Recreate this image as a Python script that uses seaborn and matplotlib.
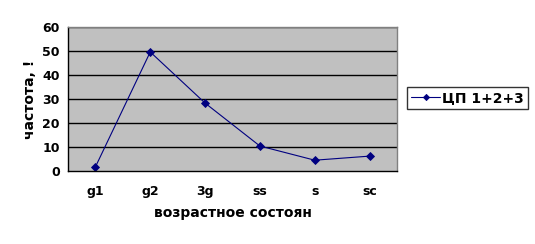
import matplotlib
matplotlib.use("Agg")
import matplotlib.pyplot as plt
import seaborn as sns
import pandas as pd
from matplotlib.ticker import FixedLocator, NullFormatter

categories = ["g1", "g2", "3g", "ss", "s", "sc"]
values = [1.7, 49.6, 28.3, 10.4, 4.5, 6.2]
series_name = "ЦП 1+2+3"
yticks = [0, 10, 20, 30, 40, 50, 60]

df = pd.DataFrame({"cat": categories, "val": values})

sns.set_style("white")
plt.rcParams["font.family"] = ["DejaVu Sans"]
plt.rcParams["text.color"] = "black"
plt.rcParams["axes.labelcolor"] = "black"
plt.rcParams["xtick.color"] = "black"
plt.rcParams["ytick.color"] = "black"

fig = plt.figure(figsize=(5.35, 2.44), dpi=100)
ax = fig.add_axes([68/535, 1-171/244, (397-68)/535, (171-27)/244])
ax.set_facecolor("#C0C0C0")

sns.pointplot(data=df, x="cat", y="val", ax=ax, color="#000080", markers="D",
              markersize=4.5, linewidth=0.8, label=series_name)

ax.set_xlim(-0.5, len(categories) - 0.5)
ax.set_ylim(0, 60)
ax.set_yticks(yticks)
for y in yticks[1:]:
    ax.axhline(y, color="black", linewidth=1.0, zorder=0.5)

ax.xaxis.set_minor_locator(FixedLocator([i - 0.5 for i in range(len(categories) + 1)]))
ax.xaxis.set_minor_formatter(NullFormatter())
ax.tick_params(axis="x", which="major", length=0, pad=10, labelsize=9, labelcolor="black")
ax.tick_params(axis="x", which="minor", length=4, width=1, color="black", direction="out")
ax.tick_params(axis="y", length=4, width=1, color="black", direction="out", labelsize=9, pad=2, labelcolor="black")
for lbl in ax.get_xticklabels() + ax.get_yticklabels():
    lbl.set_fontweight("bold")

for side in ["left", "bottom"]:
    ax.spines[side].set_color("black")
    ax.spines[side].set_linewidth(1.0)
for side in ["top", "right"]:
    ax.spines[side].set_color("#808080")
    ax.spines[side].set_linewidth(1.0)

ax.set_xlabel("возрастное состоян", fontsize=10, fontweight="bold", labelpad=6, color="black")
ax.set_ylabel("частота, !", fontsize=10, fontweight="bold", labelpad=4, color="black")

leg = ax.legend(loc="center left", bbox_to_anchor=((407-68)/(397-68), (171-98)/(171-27)),
                frameon=True, fancybox=False, edgecolor="black", fontsize=10,
                handlelength=2.1, borderpad=0.3, handletextpad=0.1, borderaxespad=0,
                markerscale=0.7)
leg.get_frame().set_linewidth(1.0)
for t in leg.get_texts():
    t.set_fontweight("bold")
    t.set_color("black")

fig.savefig("out.png", dpi=100)
